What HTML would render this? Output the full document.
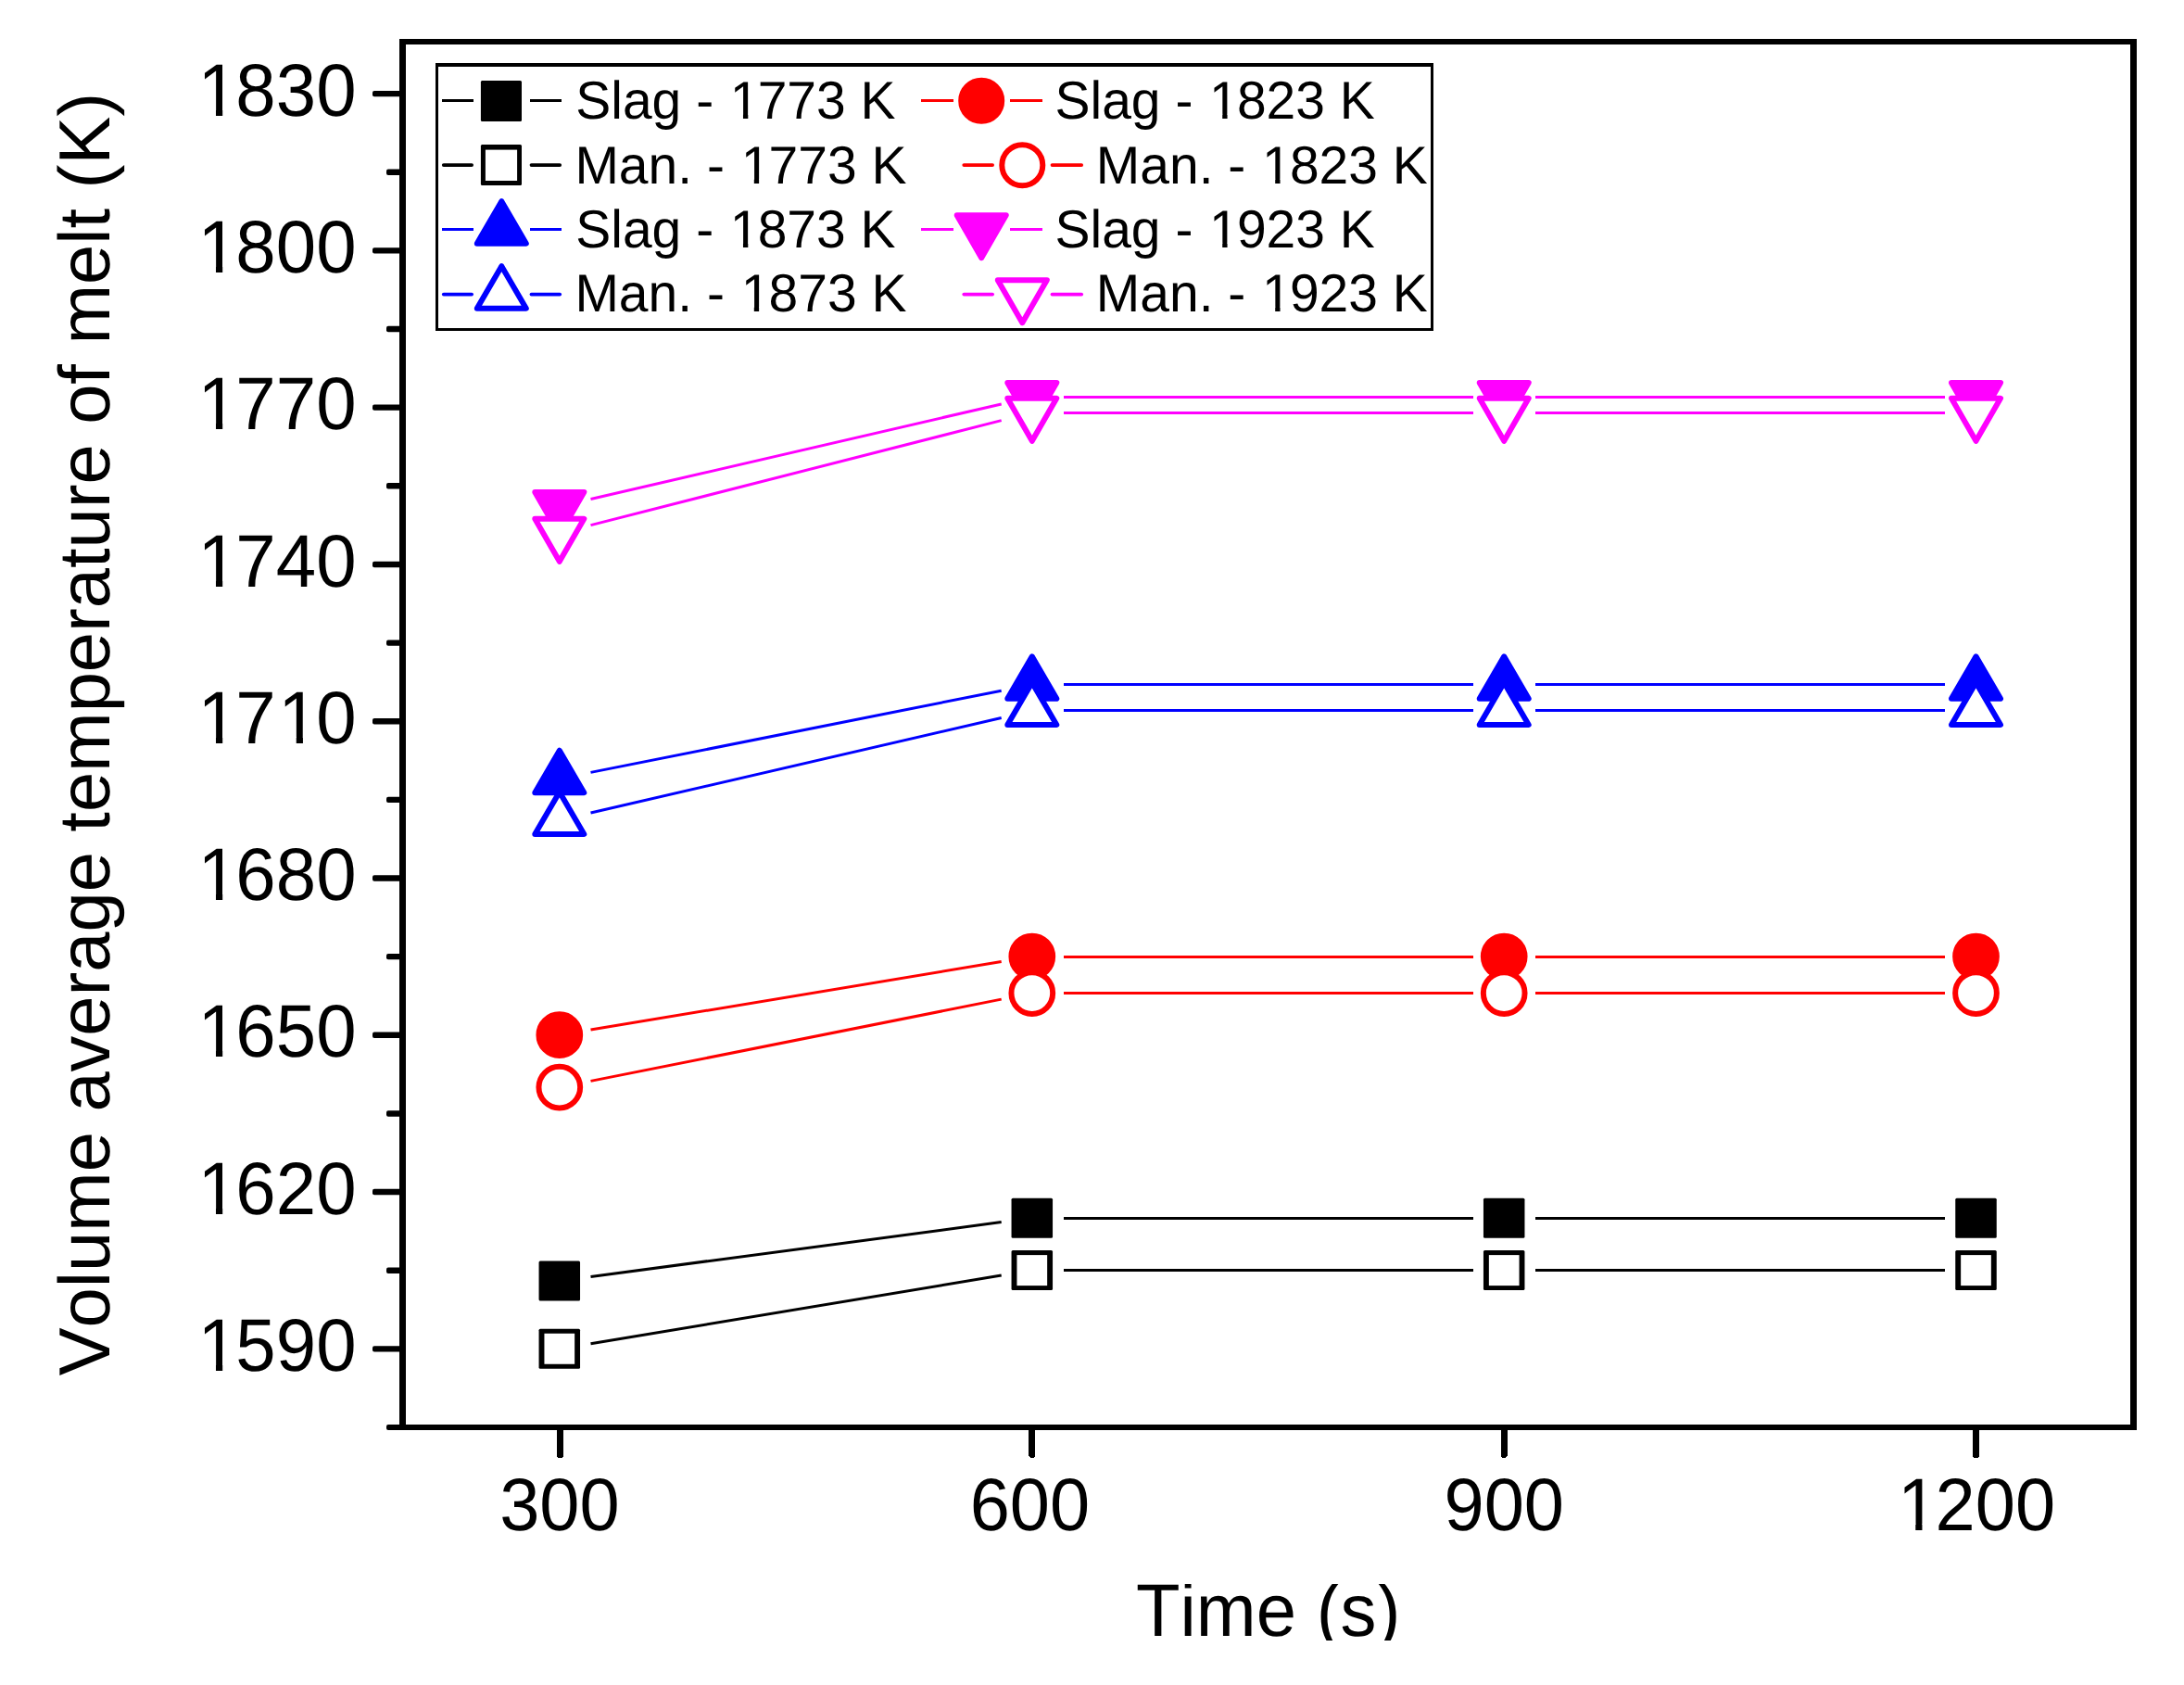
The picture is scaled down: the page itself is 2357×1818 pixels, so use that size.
<!DOCTYPE html>
<html lang="en"><head><meta charset="utf-8">
<title>Volume average temperature of melt</title>
<style>
html,body{margin:0;padding:0;background:#fff;}
body{width:2357px;height:1818px;overflow:hidden;}
svg{display:block;}
text{font-family:'Liberation Sans',sans-serif;fill:#000;font-kerning:none;font-variant-ligatures:none;text-rendering:geometricPrecision;}
.tick{font-size:78px;}
.leg{font-size:57px;}
</style></head><body>
<svg width="2357" height="1818" viewBox="0 0 2357 1818" role="img" aria-label="Volume average temperature of melt versus time">
<rect x="0" y="0" width="2357" height="1818" fill="#fff"/>
<g fill="#000" shape-rendering="crispEdges">
<rect x="431" y="42" width="7" height="1501"/>
<rect x="2299" y="42" width="7" height="1501"/>
<rect x="431" y="42" width="1875" height="6"/>
<rect x="431" y="1537" width="1875" height="6"/>
</g>
<g fill="#000">
<rect x="402" y="97.90" width="32" height="6.4" rx="2"/>
<rect x="402" y="267.18" width="32" height="6.4" rx="2"/>
<rect x="402" y="436.46" width="32" height="6.4" rx="2"/>
<rect x="402" y="605.74" width="32" height="6.4" rx="2"/>
<rect x="402" y="775.02" width="32" height="6.4" rx="2"/>
<rect x="402" y="944.30" width="32" height="6.4" rx="2"/>
<rect x="402" y="1113.59" width="32" height="6.4" rx="2"/>
<rect x="402" y="1282.87" width="32" height="6.4" rx="2"/>
<rect x="402" y="1452.15" width="32" height="6.4" rx="2"/>
<rect x="417" y="182.54" width="17" height="6.4" rx="2"/>
<rect x="417" y="351.82" width="17" height="6.4" rx="2"/>
<rect x="417" y="521.10" width="17" height="6.4" rx="2"/>
<rect x="417" y="690.38" width="17" height="6.4" rx="2"/>
<rect x="417" y="859.66" width="17" height="6.4" rx="2"/>
<rect x="417" y="1028.95" width="17" height="6.4" rx="2"/>
<rect x="417" y="1198.23" width="17" height="6.4" rx="2"/>
<rect x="417" y="1367.51" width="17" height="6.4" rx="2"/>
<rect x="417" y="1537.00" width="17" height="6" rx="2"/>
</g>
<g fill="#000" shape-rendering="crispEdges">
<rect x="600.90" y="1539" width="7" height="33.8" rx="2.6"/>
<rect x="1110.30" y="1539" width="7" height="33.8" rx="2.6"/>
<rect x="1619.70" y="1539" width="7" height="33.8" rx="2.6"/>
<rect x="2129.00" y="1539" width="7" height="33.8" rx="2.6"/>
</g>
<g class="tick">
<text transform="translate(210.98 124.80) scale(1 1.03)" dx="2.55 -2.55 0.00 0.00">1830</text>
<rect x="218.47" y="118.00" width="14.52" height="7.80" fill="#fff"/><rect x="240.19" y="118.00" width="13.91" height="7.80" fill="#fff"/>
<text transform="translate(210.98 294.08) scale(1 1.03)" dx="2.55 -2.55 0.00 0.00">1800</text>
<rect x="218.47" y="287.28" width="14.52" height="7.80" fill="#fff"/><rect x="240.19" y="287.28" width="13.91" height="7.80" fill="#fff"/>
<text transform="translate(210.98 463.36) scale(1 1.03)" dx="2.55 -2.55 0.00 0.00">1770</text>
<rect x="218.47" y="456.56" width="14.52" height="7.80" fill="#fff"/><rect x="240.19" y="456.56" width="13.91" height="7.80" fill="#fff"/>
<text transform="translate(210.98 632.64) scale(1 1.03)" dx="2.55 -2.55 0.00 0.00">1740</text>
<rect x="218.47" y="625.84" width="14.52" height="7.80" fill="#fff"/><rect x="240.19" y="625.84" width="13.91" height="7.80" fill="#fff"/>
<text transform="translate(210.98 801.92) scale(1 1.03)" dx="2.55 -2.55 2.55 -2.55">1710</text>
<rect x="218.47" y="795.12" width="14.52" height="7.80" fill="#fff"/><rect x="240.19" y="795.12" width="13.91" height="7.80" fill="#fff"/><rect x="305.23" y="795.12" width="14.52" height="7.80" fill="#fff"/><rect x="326.95" y="795.12" width="13.91" height="7.80" fill="#fff"/>
<text transform="translate(210.98 971.20) scale(1 1.03)" dx="2.55 -2.55 0.00 0.00">1680</text>
<rect x="218.47" y="964.40" width="14.52" height="7.80" fill="#fff"/><rect x="240.19" y="964.40" width="13.91" height="7.80" fill="#fff"/>
<text transform="translate(210.98 1140.49) scale(1 1.03)" dx="2.55 -2.55 0.00 0.00">1650</text>
<rect x="218.47" y="1133.68" width="14.52" height="7.80" fill="#fff"/><rect x="240.19" y="1133.68" width="13.91" height="7.80" fill="#fff"/>
<text transform="translate(210.98 1309.77) scale(1 1.03)" dx="2.55 -2.55 0.00 0.00">1620</text>
<rect x="218.47" y="1302.97" width="14.52" height="7.80" fill="#fff"/><rect x="240.19" y="1302.97" width="13.91" height="7.80" fill="#fff"/>
<text transform="translate(210.98 1479.05) scale(1 1.03)" dx="2.55 -2.55 0.00 0.00">1590</text>
<rect x="218.47" y="1472.25" width="14.52" height="7.80" fill="#fff"/><rect x="240.19" y="1472.25" width="13.91" height="7.80" fill="#fff"/>
<text transform="translate(539.16 1651) scale(0.995 1.03)" dx="0.00 0.00 0.00">300</text>

<text transform="translate(1046.66 1651) scale(0.995 1.03)" dx="0.00 0.00 0.00">600</text>

<text transform="translate(1558.46 1651) scale(0.995 1.03)" dx="0.00 0.00 0.00">900</text>

<text transform="translate(2045.37 1651) scale(0.995 1.03)" dx="2.55 -2.55 0.00 0.00">1200</text>
<rect x="2052.82" y="1644.20" width="14.45" height="7.80" fill="#fff"/><rect x="2074.44" y="1644.20" width="13.85" height="7.80" fill="#fff"/>
<clipPath id="xt"><rect x="1200" y="1709" width="340" height="61"/></clipPath>
<g clip-path="url(#xt)"><text transform="translate(1368.7 1765) scale(0.998 1.03)" text-anchor="middle">Time (s)</text></g>
<text transform="translate(118 792.1) rotate(-90) scale(0.9947 1)" text-anchor="middle">Volume average temperature of melt (K)</text>
</g>
<g>
<line x1="637.50" y1="1377.42" x2="1080.70" y2="1318.58" stroke="#000000" stroke-width="3"/>
<line x1="1147.50" y1="1314.18" x2="1590.10" y2="1314.18" stroke="#000000" stroke-width="3" shape-rendering="crispEdges"/>
<line x1="1656.90" y1="1314.18" x2="2099.40" y2="1314.18" stroke="#000000" stroke-width="3" shape-rendering="crispEdges"/>
<rect x="581.55" y="1360.39" width="44.5" height="43" rx="1.5" fill="#000000"/>
<rect x="1091.55" y="1292.68" width="44.5" height="43" rx="1.5" fill="#000000"/>
<rect x="1600.95" y="1292.68" width="44.5" height="43" rx="1.5" fill="#000000"/>
<rect x="2110.25" y="1292.68" width="44.5" height="43" rx="1.5" fill="#000000"/>
<line x1="637.50" y1="1449.66" x2="1080.70" y2="1376.10" stroke="#000000" stroke-width="3"/>
<line x1="1147.50" y1="1370.61" x2="1590.10" y2="1370.61" stroke="#000000" stroke-width="3" shape-rendering="crispEdges"/>
<line x1="1656.90" y1="1370.61" x2="2099.40" y2="1370.61" stroke="#000000" stroke-width="3" shape-rendering="crispEdges"/>
<rect x="581.55" y="1433.75" width="44.5" height="43" rx="1.5" fill="#000000"/><rect x="587.45" y="1438.75" width="32.7" height="33" fill="#fff"/>
<rect x="1091.55" y="1349.11" width="44.5" height="43" rx="1.5" fill="#000000"/><rect x="1097.45" y="1354.11" width="32.7" height="33" fill="#fff"/>
<rect x="1600.95" y="1349.11" width="44.5" height="43" rx="1.5" fill="#000000"/><rect x="1606.85" y="1354.11" width="32.7" height="33" fill="#fff"/>
<rect x="2110.25" y="1349.11" width="44.5" height="43" rx="1.5" fill="#000000"/><rect x="2116.15" y="1354.11" width="32.7" height="33" fill="#fff"/>
<line x1="637.50" y1="1111.09" x2="1080.70" y2="1037.54" stroke="#ff0000" stroke-width="3"/>
<line x1="1147.50" y1="1032.05" x2="1590.10" y2="1032.05" stroke="#ff0000" stroke-width="3" shape-rendering="crispEdges"/>
<line x1="1656.90" y1="1032.05" x2="2099.40" y2="1032.05" stroke="#ff0000" stroke-width="3" shape-rendering="crispEdges"/>
<circle cx="603.80" cy="1116.69" r="22.35" fill="#ff0000" stroke="#ff0000" stroke-width="6"/>
<circle cx="1113.80" cy="1032.05" r="22.35" fill="#ff0000" stroke="#ff0000" stroke-width="6"/>
<circle cx="1623.20" cy="1032.05" r="22.35" fill="#ff0000" stroke="#ff0000" stroke-width="6"/>
<circle cx="2132.50" cy="1032.05" r="22.35" fill="#ff0000" stroke="#ff0000" stroke-width="6"/>
<line x1="637.50" y1="1166.40" x2="1080.70" y2="1078.14" stroke="#ff0000" stroke-width="3"/>
<line x1="1147.50" y1="1071.54" x2="1590.10" y2="1071.54" stroke="#ff0000" stroke-width="3" shape-rendering="crispEdges"/>
<line x1="1656.90" y1="1071.54" x2="2099.40" y2="1071.54" stroke="#ff0000" stroke-width="3" shape-rendering="crispEdges"/>
<circle cx="603.80" cy="1173.11" r="22.35" fill="#fff" stroke="#ff0000" stroke-width="6"/>
<circle cx="1113.80" cy="1071.54" r="22.35" fill="#fff" stroke="#ff0000" stroke-width="6"/>
<circle cx="1623.20" cy="1071.54" r="22.35" fill="#fff" stroke="#ff0000" stroke-width="6"/>
<circle cx="2132.50" cy="1071.54" r="22.35" fill="#fff" stroke="#ff0000" stroke-width="6"/>
<line x1="637.50" y1="833.39" x2="1080.70" y2="745.21" stroke="#0000ff" stroke-width="3"/>
<line x1="1147.50" y1="738.63" x2="1590.10" y2="738.63" stroke="#0000ff" stroke-width="3" shape-rendering="crispEdges"/>
<line x1="1656.90" y1="738.63" x2="2099.40" y2="738.63" stroke="#0000ff" stroke-width="3" shape-rendering="crispEdges"/>
<path d="M603.80 809.77 L630.30 855.27 L577.30 855.27 Z" fill="#0000ff" stroke="#0000ff" stroke-width="6" stroke-linejoin="round"/>
<path d="M1113.80 708.29 L1140.30 753.79 L1087.30 753.79 Z" fill="#0000ff" stroke="#0000ff" stroke-width="6" stroke-linejoin="round"/>
<path d="M1623.20 708.29 L1649.70 753.79 L1596.70 753.79 Z" fill="#0000ff" stroke="#0000ff" stroke-width="6" stroke-linejoin="round"/>
<path d="M2132.50 708.29 L2159.00 753.79 L2106.00 753.79 Z" fill="#0000ff" stroke="#0000ff" stroke-width="6" stroke-linejoin="round"/>
<line x1="637.50" y1="877.01" x2="1080.70" y2="774.49" stroke="#0000ff" stroke-width="3"/>
<line x1="1147.50" y1="766.84" x2="1590.10" y2="766.84" stroke="#0000ff" stroke-width="3" shape-rendering="crispEdges"/>
<line x1="1656.90" y1="766.84" x2="2099.40" y2="766.84" stroke="#0000ff" stroke-width="3" shape-rendering="crispEdges"/>
<path d="M603.80 854.47 L630.30 899.97 L577.30 899.97 Z" fill="#fff" stroke="#0000ff" stroke-width="6" stroke-linejoin="round"/>
<path d="M1113.80 736.51 L1140.30 782.01 L1087.30 782.01 Z" fill="#fff" stroke="#0000ff" stroke-width="6" stroke-linejoin="round"/>
<path d="M1623.20 736.51 L1649.70 782.01 L1596.70 782.01 Z" fill="#fff" stroke="#0000ff" stroke-width="6" stroke-linejoin="round"/>
<path d="M2132.50 736.51 L2159.00 782.01 L2106.00 782.01 Z" fill="#fff" stroke="#0000ff" stroke-width="6" stroke-linejoin="round"/>
<line x1="637.50" y1="538.50" x2="1080.70" y2="435.94" stroke="#ff00ff" stroke-width="3"/>
<line x1="1147.50" y1="428.28" x2="1590.10" y2="428.28" stroke="#ff00ff" stroke-width="3" shape-rendering="crispEdges"/>
<line x1="1656.90" y1="428.28" x2="2099.40" y2="428.28" stroke="#ff00ff" stroke-width="3" shape-rendering="crispEdges"/>
<path d="M603.80 576.97 L630.30 530.97 L577.30 530.97 Z" fill="#ff00ff" stroke="#ff00ff" stroke-width="6" stroke-linejoin="round"/>
<path d="M1113.80 458.94 L1140.30 412.94 L1087.30 412.94 Z" fill="#ff00ff" stroke="#ff00ff" stroke-width="6" stroke-linejoin="round"/>
<path d="M1623.20 458.94 L1649.70 412.94 L1596.70 412.94 Z" fill="#ff00ff" stroke="#ff00ff" stroke-width="6" stroke-linejoin="round"/>
<path d="M2132.50 458.94 L2159.00 412.94 L2106.00 412.94 Z" fill="#ff00ff" stroke="#ff00ff" stroke-width="6" stroke-linejoin="round"/>
<line x1="637.50" y1="566.61" x2="1080.70" y2="453.64" stroke="#ff00ff" stroke-width="3"/>
<line x1="1147.50" y1="445.20" x2="1590.10" y2="445.20" stroke="#ff00ff" stroke-width="3" shape-rendering="crispEdges"/>
<line x1="1656.90" y1="445.20" x2="2099.40" y2="445.20" stroke="#ff00ff" stroke-width="3" shape-rendering="crispEdges"/>
<path d="M603.80 605.87 L630.30 559.87 L577.30 559.87 Z" fill="#fff" stroke="#ff00ff" stroke-width="6" stroke-linejoin="round"/>
<path d="M1113.80 475.87 L1140.30 429.87 L1087.30 429.87 Z" fill="#fff" stroke="#ff00ff" stroke-width="6" stroke-linejoin="round"/>
<path d="M1623.20 475.87 L1649.70 429.87 L1596.70 429.87 Z" fill="#fff" stroke="#ff00ff" stroke-width="6" stroke-linejoin="round"/>
<path d="M2132.50 475.87 L2159.00 429.87 L2106.00 429.87 Z" fill="#fff" stroke="#ff00ff" stroke-width="6" stroke-linejoin="round"/>
</g>
<g>
<rect x="470" y="68" width="1077" height="4" fill="#000" shape-rendering="crispEdges"/>
<rect x="470" y="354" width="1077" height="3" fill="#000" shape-rendering="crispEdges"/>
<rect x="470" y="68" width="3" height="289" fill="#000" shape-rendering="crispEdges"/>
<rect x="1544" y="68" width="3" height="289" fill="#000" shape-rendering="crispEdges"/>
<line x1="477.00" y1="108.50" x2="510.80" y2="108.50" stroke="#000000" stroke-width="3" shape-rendering="crispEdges"/>
<line x1="571.80" y1="108.50" x2="606.00" y2="108.50" stroke="#000000" stroke-width="3" shape-rendering="crispEdges"/>
<rect x="518.9" y="87.00" width="44.1" height="44" rx="1.5" fill="#000000"/>
<text class="leg" transform="translate(621.18 128.00) scale(1 1.01)" dx="0.00 0.00 0.00 0.00 0.00 0.00 0.00 1.86 -1.86 0.00 0.00 0.00 0.00">Slag - 1773 K</text>
<rect x="791.13" y="122.90" width="10.84" height="6.10" fill="#fff"/><rect x="807.31" y="122.90" width="10.40" height="6.10" fill="#fff"/>
<line x1="478.80" y1="178.10" x2="509.10" y2="178.10" stroke="#000000" stroke-width="3.8" stroke-linecap="round"/>
<line x1="573.50" y1="178.10" x2="604.20" y2="178.10" stroke="#000000" stroke-width="3.8" stroke-linecap="round"/>
<rect x="518.9" y="156.00" width="44.1" height="44" rx="1.5" fill="#000000"/>
<rect x="523.9" y="161.60" width="34.2" height="33.4" fill="#fff"/>
<text class="leg" transform="translate(620.38 198.00) scale(1 1.01)" dx="0.00 0.00 0.00 0.00 0.00 0.00 0.00 1.86 -1.86 0.00 0.00 0.00 0.00">Man. - 1773 K</text>
<rect x="802.96" y="192.90" width="10.84" height="6.10" fill="#fff"/><rect x="819.14" y="192.90" width="10.40" height="6.10" fill="#fff"/>
<line x1="477.00" y1="247.50" x2="510.80" y2="247.50" stroke="#0000ff" stroke-width="3" shape-rendering="crispEdges"/>
<line x1="571.80" y1="247.50" x2="606.00" y2="247.50" stroke="#0000ff" stroke-width="3" shape-rendering="crispEdges"/>
<path d="M541.30 217.17 L567.80 262.67 L514.80 262.67 Z" fill="#0000ff" stroke="#0000ff" stroke-width="6" stroke-linejoin="round"/>
<text class="leg" transform="translate(621.18 267.00) scale(1 1.01)" dx="0.00 0.00 0.00 0.00 0.00 0.00 0.00 1.86 -1.86 0.00 0.00 0.00 0.00">Slag - 1873 K</text>
<rect x="791.13" y="261.90" width="10.84" height="6.10" fill="#fff"/><rect x="807.31" y="261.90" width="10.40" height="6.10" fill="#fff"/>
<line x1="478.80" y1="317.60" x2="509.10" y2="317.60" stroke="#0000ff" stroke-width="3.8" stroke-linecap="round"/>
<line x1="573.50" y1="317.60" x2="604.20" y2="317.60" stroke="#0000ff" stroke-width="3.8" stroke-linecap="round"/>
<path d="M541.30 287.17 L567.80 332.67 L514.80 332.67 Z" fill="#fff" stroke="#0000ff" stroke-width="6" stroke-linejoin="round"/>
<text class="leg" transform="translate(620.38 336.00) scale(1 1.01)" dx="0.00 0.00 0.00 0.00 0.00 0.00 0.00 1.86 -1.86 0.00 0.00 0.00 0.00">Man. - 1873 K</text>
<rect x="802.96" y="330.90" width="10.84" height="6.10" fill="#fff"/><rect x="819.14" y="330.90" width="10.40" height="6.10" fill="#fff"/>
<line x1="994.00" y1="108.50" x2="1028.70" y2="108.50" stroke="#ff0000" stroke-width="3" shape-rendering="crispEdges"/>
<line x1="1089.70" y1="108.50" x2="1125.00" y2="108.50" stroke="#ff0000" stroke-width="3" shape-rendering="crispEdges"/>
<circle cx="1059.20" cy="108.80" r="22.00" fill="#ff0000" stroke="#ff0000" stroke-width="6"/>
<text class="leg" transform="translate(1138.43 128.00) scale(1 1.01)" dx="0.00 0.00 0.00 0.00 0.00 0.00 0.00 1.86 -1.86 0.00 0.00 0.00 0.00">Slag - 1823 K</text>
<rect x="1308.38" y="122.90" width="10.84" height="6.10" fill="#fff"/><rect x="1324.56" y="122.90" width="10.40" height="6.10" fill="#fff"/>
<line x1="1040.30" y1="178.10" x2="1071.10" y2="178.10" stroke="#ff0000" stroke-width="3.8" stroke-linecap="round"/>
<line x1="1135.50" y1="178.10" x2="1167.20" y2="178.10" stroke="#ff0000" stroke-width="3.8" stroke-linecap="round"/>
<circle cx="1103.30" cy="178.30" r="22.00" fill="#fff" stroke="#ff0000" stroke-width="6"/>
<text class="leg" transform="translate(1182.78 198.00) scale(1 1.01)" dx="0.00 0.00 0.00 0.00 0.00 0.00 0.00 1.86 -1.86 0.00 0.00 0.00 0.00">Man. - 1823 K</text>
<rect x="1365.36" y="192.90" width="10.84" height="6.10" fill="#fff"/><rect x="1381.54" y="192.90" width="10.40" height="6.10" fill="#fff"/>
<line x1="994.00" y1="247.50" x2="1028.70" y2="247.50" stroke="#ff00ff" stroke-width="3" shape-rendering="crispEdges"/>
<line x1="1089.70" y1="247.50" x2="1125.00" y2="247.50" stroke="#ff00ff" stroke-width="3" shape-rendering="crispEdges"/>
<path d="M1059.20 278.17 L1085.70 232.17 L1032.70 232.17 Z" fill="#ff00ff" stroke="#ff00ff" stroke-width="6" stroke-linejoin="round"/>
<text class="leg" transform="translate(1138.43 267.00) scale(1 1.01)" dx="0.00 0.00 0.00 0.00 0.00 0.00 0.00 1.86 -1.86 0.00 0.00 0.00 0.00">Slag - 1923 K</text>
<rect x="1308.38" y="261.90" width="10.84" height="6.10" fill="#fff"/><rect x="1324.56" y="261.90" width="10.40" height="6.10" fill="#fff"/>
<line x1="1040.30" y1="317.60" x2="1071.10" y2="317.60" stroke="#ff00ff" stroke-width="3.8" stroke-linecap="round"/>
<line x1="1135.50" y1="317.60" x2="1167.20" y2="317.60" stroke="#ff00ff" stroke-width="3.8" stroke-linecap="round"/>
<path d="M1103.30 348.17 L1129.80 302.17 L1076.80 302.17 Z" fill="#fff" stroke="#ff00ff" stroke-width="6" stroke-linejoin="round"/>
<text class="leg" transform="translate(1182.78 336.00) scale(1 1.01)" dx="0.00 0.00 0.00 0.00 0.00 0.00 0.00 1.86 -1.86 0.00 0.00 0.00 0.00">Man. - 1923 K</text>
<rect x="1365.36" y="330.90" width="10.84" height="6.10" fill="#fff"/><rect x="1381.54" y="330.90" width="10.40" height="6.10" fill="#fff"/>
</g>
</svg></body></html>
